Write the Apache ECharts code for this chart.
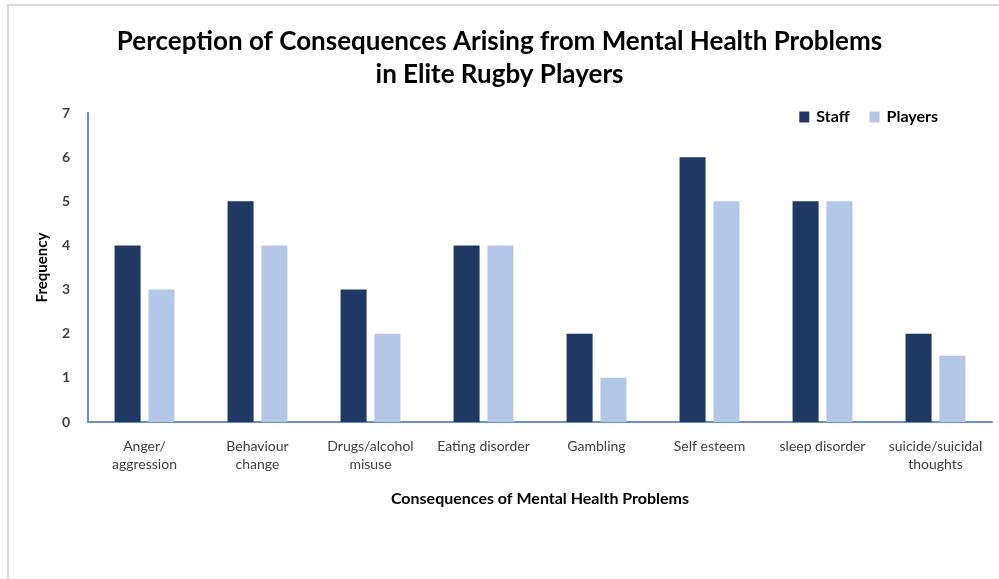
<!DOCTYPE html>
<html><head><meta charset="utf-8">
<script src="https://cdn.jsdelivr.net/npm/echarts@6/dist/echarts.min.js"></script>
<style>
html,body{margin:0;padding:0;background:#fff;}
#frame{position:absolute;left:7px;top:4px;width:1000px;height:600px;border-left:2px solid #d9d9d9;border-top:2px solid #d9d9d9;}
#c{position:absolute;left:0;top:0;width:999px;height:579px;}
</style></head>
<body>
<div id="frame"></div>
<div id="c"></div>
<script>
const categories = ["Anger/\naggression","Behaviour\nchange","Drugs/alcohol\nmisuse","Eating disorder","Gambling","Self esteem","sleep disorder","suicide/suicidal\nthoughts"];
const staff = [4,5,3,4,2,6,5,2];
const players = [3,4,2,4,1,5,5,1.5];
const yTicks = {min:0,max:7,interval:1};

const chart = echarts.init(document.getElementById('c'));
const font = 'Lato, "Open Sans", sans-serif';
chart.setOption({
  animation:false,
  title:{
    text:'Perception of Consequences Arising from Mental Health Problems\nin Elite Rugby Players',
    left:'center', top:20,
    textStyle:{fontFamily:font,fontSize:26,fontWeight:'bold',color:'#000',lineHeight:33}
  },
  legend:{
    data:['Staff','Players'], right:56, top:104,
    itemWidth:10,itemHeight:11,itemGap:20,icon:'rect',
    textStyle:{fontFamily:font,fontSize:16,fontWeight:'bold',color:'#000',padding:[0,0,0,2]}
  },
  grid:{left:88,right:7,top:113,bottom:157,containLabel:false},
  xAxis:{
    type:'category',data:categories,
    name:'Consequences of Mental Health Problems',nameLocation:'middle',nameGap:69,
    nameTextStyle:{fontFamily:font,fontSize:16,fontWeight:'bold',color:'#000'},
    axisLine:{lineStyle:{color:'#6a8fd1',width:2}},
    axisTick:{show:false},
    axisLabel:{fontFamily:font,fontSize:14,color:'#404040',margin:15,lineHeight:18,interval:0}
  },
  yAxis:{
    type:'value',min:yTicks.min,max:yTicks.max,interval:yTicks.interval,
    name:'Frequency',nameLocation:'middle',nameGap:38,
    nameTextStyle:{fontFamily:font,fontSize:15,fontWeight:'bold',color:'#000'},
    axisLine:{show:true,lineStyle:{color:'#6a8fd1',width:2}},
    axisTick:{show:false},splitLine:{show:false},
    axisLabel:{fontFamily:font,fontSize:14,fontWeight:'bold',color:'#404040',margin:18}
  },
  series:[
    {name:'Staff',type:'bar',data:staff,barGap:'30%',barCategoryGap:'47%',itemStyle:{color:'#203864'}},
    {name:'Players',type:'bar',data:players,itemStyle:{color:'#b4c7e7'}}
  ]
});
</script>
</body></html>
